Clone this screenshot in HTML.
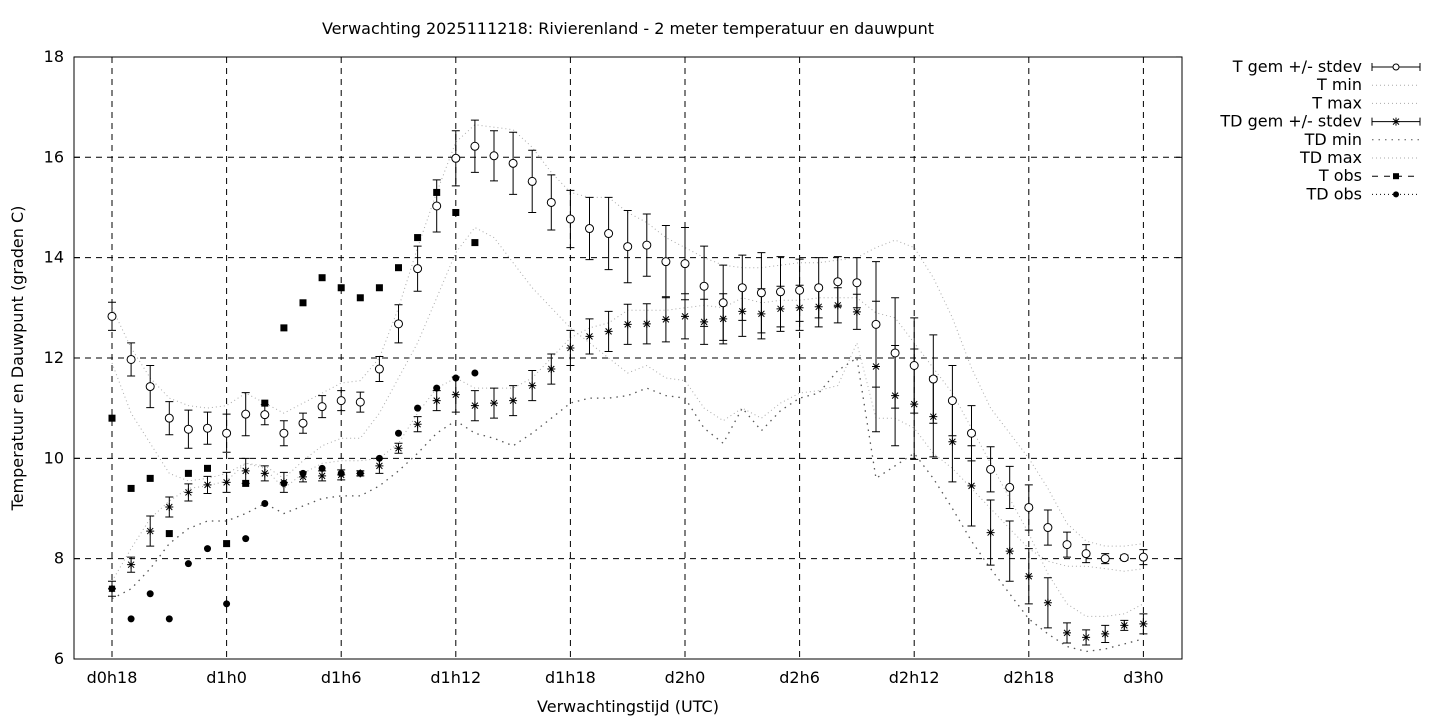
<!DOCTYPE html>
<html><head><meta charset="utf-8"><style>body{margin:0;background:#fff}svg{display:block}text{font-family:"DejaVu Sans","Liberation Sans",sans-serif;font-size:16px;fill:#000}</style></head>
<body>
<svg id="s" width="1440" height="720" xmlns="http://www.w3.org/2000/svg">
<text x="628" y="34" text-anchor="middle">Verwachting 2025111218: Rivierenland - 2 meter temperatuur en dauwpunt</text>
<text x="628" y="712" text-anchor="middle">Verwachtingstijd (UTC)</text>
<text transform="translate(23,358) rotate(-90)" text-anchor="middle">Temperatuur en Dauwpunt (graden C)</text>
<g id="g"></g>
<rect x="74" y="57" width="1108" height="602" fill="none" stroke="#000" stroke-width="1"/>
</svg>
<script>
var g=document.getElementById('g'),h='';
function X(i){return 112+19.1*i}
function Y(v){return 659-(v-6)*50.17}
for(var v=6;v<=18;v+=2){var y=Y(v);if(v>6&&v<18)h+='<line x1="74" x2="1182" y1="'+y+'" y2="'+y+'" stroke="#000" stroke-dasharray="6,5"/>';h+='<text x="64" y="'+(y+5)+'" text-anchor="end">'+v+'</text><line x1="74" x2="80" y1="'+y+'" y2="'+y+'" stroke="#000"/><line x1="1176" x2="1182" y1="'+y+'" y2="'+y+'" stroke="#000"/>';}
var labs=['d0h18','d1h0','d1h6','d1h12','d1h18','d2h0','d2h6','d2h12','d2h18','d3h0'];
for(var k=0;k<10;k++){var x=X(k*6);h+='<line x1="'+x+'" x2="'+x+'" y1="57" y2="659" stroke="#000" stroke-dasharray="6,5"/><text x="'+x+'" y="683" text-anchor="middle">'+labs[k]+'</text>';}
function pl(a,c,d,w){var p=a.map(function(v,i){return X(i).toFixed(1)+','+Y(v).toFixed(1)}).join(' ');return '<polyline points="'+p+'" fill="none" stroke="'+c+'" stroke-width="'+(w||1)+'" stroke-dasharray="'+d+'"/>';}
var Tmax=[13.0,12.2,11.6,11.2,11.05,11.0,11.05,11.3,11.1,10.9,11.1,11.3,11.5,11.55,12.0,13.0,14.2,15.3,16.3,16.65,16.6,16.55,16.2,15.7,15.3,15.2,15.2,14.9,14.7,14.4,14.2,14.0,13.85,13.8,13.8,13.85,13.9,13.9,13.95,14.0,14.2,14.35,14.2,13.6,12.8,11.8,11.0,10.5,10.0,9.4,8.7,8.35,8.25,8.25,8.3];
var Tmin=[11.9,10.9,10.3,9.7,9.55,9.6,9.7,9.9,9.85,9.6,9.95,10.25,10.4,10.4,10.9,11.6,12.3,13.2,14.1,14.6,14.4,13.9,13.4,13.0,12.6,12.3,12.0,11.7,11.85,11.6,11.55,11.0,10.75,11.0,10.8,11.1,11.3,11.35,11.45,12.3,10.8,10.8,10.6,10.1,9.8,9.4,9.0,8.6,8.2,7.95,7.85,7.85,7.8,7.75,7.8];
var TDmax=[7.55,8.2,8.8,9.15,9.4,9.45,9.55,9.9,9.8,9.4,9.7,9.9,9.95,9.95,10.0,10.3,10.9,11.4,11.6,11.4,11.4,11.4,11.6,12.0,12.4,12.6,12.7,12.95,12.95,12.95,13.0,13.05,13.0,13.2,13.1,13.15,13.15,13.2,13.2,13.2,12.9,12.8,12.3,11.8,11.3,10.6,9.9,9.2,8.5,7.7,7.1,6.85,6.85,6.9,7.1];
var TDmin=[7.2,7.4,7.8,8.3,8.6,8.75,8.75,8.9,9.1,8.9,9.05,9.2,9.25,9.25,9.45,9.75,10.1,10.5,10.75,10.5,10.4,10.25,10.5,10.8,11.1,11.2,11.2,11.25,11.4,11.25,11.2,10.6,10.3,11.0,10.55,10.95,11.2,11.3,11.75,12.0,9.6,9.85,10.1,9.6,9.0,8.35,7.8,7.3,6.8,6.5,6.25,6.15,6.2,6.3,6.4];
h+=pl(Tmax,'#aaa','1,3')+pl(Tmin,'#aaa','1,3')+pl(TDmax,'#aaa','1,3')+pl(TDmin,'#555','1.5,5',1.3);
var T=[12.83,11.97,11.43,10.8,10.58,10.6,10.5,10.88,10.87,10.5,10.7,11.03,11.15,11.12,11.78,12.68,13.78,15.03,15.98,16.22,16.03,15.88,15.52,15.1,14.77,14.58,14.48,14.22,14.25,13.92,13.88,13.43,13.1,13.4,13.3,13.32,13.35,13.4,13.52,13.5,12.67,12.1,11.85,11.58,11.15,10.5,9.78,9.42,9.02,8.62,8.28,8.1,8.0,8.02,8.03];
var Ts=[0.28,0.33,0.42,0.33,0.38,0.32,0.38,0.43,0.2,0.25,0.2,0.22,0.2,0.2,0.25,0.38,0.45,0.52,0.55,0.52,0.5,0.62,0.62,0.55,0.57,0.62,0.72,0.72,0.62,0.72,0.72,0.8,0.75,0.65,0.8,0.7,0.62,0.6,0.5,0.5,1.25,1.1,0.95,0.88,0.7,0.55,0.45,0.42,0.45,0.35,0.25,0.18,0.1,0.05,0.15];
var TD=[7.4,7.88,8.55,9.03,9.32,9.47,9.52,9.75,9.7,9.52,9.63,9.65,9.67,9.7,9.85,10.2,10.68,11.15,11.27,11.05,11.1,11.15,11.45,11.78,12.2,12.43,12.53,12.67,12.68,12.77,12.83,12.72,12.78,12.93,12.88,12.98,13.0,13.02,13.05,12.92,11.83,11.25,11.08,10.83,10.33,9.45,8.52,8.15,7.65,7.12,6.52,6.43,6.5,6.67,6.7];
var TDs=[0.15,0.15,0.3,0.2,0.17,0.17,0.2,0.25,0.15,0.2,0.1,0.1,0.1,0.05,0.15,0.1,0.15,0.2,0.35,0.3,0.3,0.3,0.3,0.3,0.35,0.35,0.4,0.4,0.4,0.45,0.45,0.45,0.5,0.5,0.5,0.45,0.45,0.4,0.35,0.35,1.3,1.0,1.1,0.8,0.8,0.8,0.65,0.6,0.55,0.5,0.2,0.15,0.17,0.1,0.2];
function eb(x,v,s){var a=Y(v+s),b=Y(v-s);return '<path d="M'+x+' '+a+'V'+b+'M'+(x-4)+' '+a+'h8M'+(x-4)+' '+b+'h8" stroke="#000" fill="none"/>';}
function star(x,y){return '<path d="M'+(x-4)+' '+y+'h8M'+x+' '+(y-4)+'v8M'+(x-3)+' '+(y-3)+'l6 6M'+(x-3)+' '+(y+3)+'l6 -6" stroke="#000" fill="none"/>';}
for(var i=0;i<55;i++){var x=X(i);h+=eb(x,T[i],Ts[i])+eb(x,TD[i],TDs[i]);h+='<circle cx="'+x+'" cy="'+Y(T[i])+'" r="4" fill="#fff" stroke="#000"/>'+star(x,Y(TD[i]));}
var To=[10.8,9.4,9.6,8.5,9.7,9.8,8.3,9.5,11.1,12.6,13.1,13.6,13.4,13.2,13.4,13.8,14.4,15.3,14.9,14.3];
var TDo=[7.4,6.8,7.3,6.8,7.9,8.2,7.1,8.4,9.1,9.5,9.7,9.8,9.7,9.7,10.0,10.5,11.0,11.4,11.6,11.7];
for(var i=0;i<20;i++){var x=X(i);h+='<rect x="'+(x-3.5)+'" y="'+(Y(To[i])-3.5)+'" width="7" height="7" fill="#000"/><circle cx="'+x+'" cy="'+Y(TDo[i])+'" r="3.5" fill="#000"/>';}
var L=['T gem +/- stdev','T min','T max','TD gem +/- stdev','TD min','TD max','T obs','TD obs'];
for(var k=0;k<8;k++){var y=67+18.2*k;h+='<text x="1362" y="'+(y+5)+'" text-anchor="end">'+L[k]+'</text>';
if(k==0||k==3){h+='<path d="M1372 '+y+'h48M1372 '+(y-4)+'v8M1420 '+(y-4)+'v8" stroke="#000"/>';h+=k==0?'<circle cx="1396" cy="'+y+'" r="3" fill="#fff" stroke="#000"/>':star(1396,y);}
else if(k==6){h+='<line x1="1372" x2="1420" y1="'+y+'" y2="'+y+'" stroke="#000" stroke-dasharray="6,6"/><rect x="1393" y="'+(y-3)+'" width="6" height="6"/>';}
else if(k==7){h+='<line x1="1372" x2="1420" y1="'+y+'" y2="'+y+'" stroke="#000" stroke-dasharray="1,3"/><circle cx="1396" cy="'+y+'" r="3"/>';}
else h+='<line x1="1372" x2="1420" y1="'+y+'" y2="'+y+'" stroke="'+(k==4?'#555':'#aaa')+'" stroke-dasharray="'+(k==4?'1.5,5':'1,3')+'"/>';}
g.innerHTML=h;
</script>
</body></html>
